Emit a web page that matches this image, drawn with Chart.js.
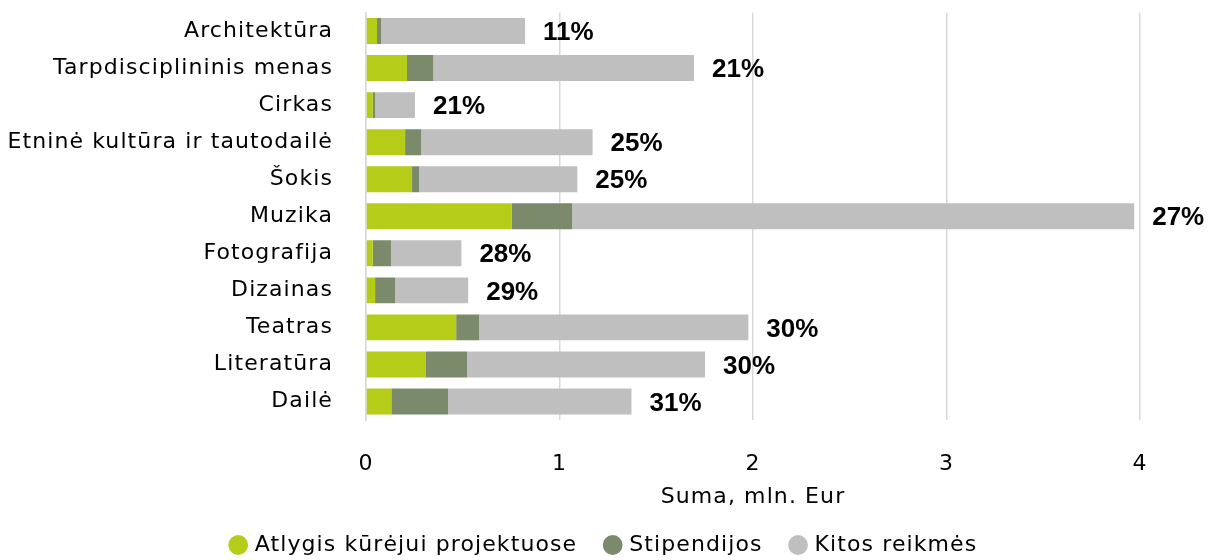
<!DOCTYPE html>
<html>
<head>
<meta charset="utf-8">
<script src="https://cdn.jsdelivr.net/npm/chart.js@4.4.1/dist/chart.umd.min.js"></script>
<style>
html,body{margin:0;padding:0;background:#fff;}
#wrap{width:1210px;height:560px;position:relative;}
</style>
</head>
<body>
<div id="wrap"><canvas id="c" width="1210" height="560"></canvas></div>
<script>
const categories = ["Architektūra","Tarpdisciplininis menas","Cirkas","Etninė kultūra ir tautodailė","Šokis","Muzika","Fotografija","Dizainas","Teatras","Literatūra","Dailė"];
const atlygis = [0.057,0.212,0.035,0.202,0.238,0.754,0.035,0.047,0.466,0.310,0.131];
const stipendijos = [0.021,0.136,0.012,0.083,0.036,0.312,0.094,0.103,0.119,0.212,0.293];
const kitos = [0.744,1.347,0.206,0.886,0.818,2.904,0.364,0.378,1.391,1.230,0.948];
const shareLabels = ["11%","21%","21%","25%","25%","27%","28%","29%","30%","30%","31%"];
const xTicks = [0,1,2,3,4];
const seriesNames = ["Atlygis kūrėjui projektuose","Stipendijos","Kitos reikmės"];
const colors = ["#b5cc18","#7a8a6a","#bfbfbf"];

const FONT = "'DejaVu Sans', sans-serif";
const SPACING = '1.1px';

const spacingPlugin = {
  id: 'spacing',
  beforeLayout(chart) { chart.ctx.letterSpacing = SPACING; },
  beforeDraw(chart) { chart.ctx.letterSpacing = SPACING; }
};

const labelPlugin = {
  id: 'endLabels',
  afterDatasetsDraw(chart) {
    const ctx = chart.ctx;
    const meta = chart.getDatasetMeta(2);
    ctx.save();
    ctx.letterSpacing = '0px';
    ctx.font = "bold 26px 'Liberation Sans', Arial, sans-serif";
    ctx.fillStyle = "#000";
    ctx.textBaseline = "middle";
    ctx.textAlign = "left";
    meta.data.forEach((bar, i) => {
      ctx.fillText(shareLabels[i], bar.x + 18, bar.y + 2);
    });
    ctx.restore();
  }
};

new Chart(document.getElementById('c'), {
  type: 'bar',
  data: {
    labels: categories,
    datasets: [
      {label: seriesNames[0], data: atlygis, backgroundColor: colors[0]},
      {label: seriesNames[1], data: stipendijos, backgroundColor: colors[1]},
      {label: seriesNames[2], data: kitos, backgroundColor: colors[2]}
    ]
  },
  options: {
    indexAxis: 'y',
    responsive: false,
    animation: false,
    devicePixelRatio: 1,
    layout: {padding: {top: 12.5, right: 0, left: 0, bottom: -6}},
    datasets: {bar: {categoryPercentage: 1, barPercentage: 0.7, borderWidth: 0}},
    plugins: {
      legend: {
        position: 'bottom',
        labels: {
          usePointStyle: true, pointStyle: 'circle', boxWidth: 11, boxHeight: 14,
          color: '#000', font: {family: FONT, size: 22}, padding: 30
        }
      },
      tooltip: {enabled: false}
    },
    scales: {
      x: {
        stacked: true, min: 0, max: 4,
        afterBuildTicks: s => { s.ticks = xTicks.map(v => ({value: v})); },
        afterFit: s => { s.height = 84; },
        grid: {color: '#d9d9d9', lineWidth: 1.5, drawTicks: false},
        border: {display: false},
        ticks: {color: '#000', font: {family: FONT, size: 22}, padding: 31, maxRotation: 0},
        title: {display: true, text: 'Suma, mln. Eur', color: '#000', font: {family: FONT, size: 22}, padding: {top: 0, bottom: -6}}
      },
      y: {
        stacked: true,
        afterFit: s => { s.width = 366; s.paddingTop = 0; s.paddingBottom = 0; },
        grid: {display: false, drawTicks: false},
        border: {display: true, color: '#d9d9d9', width: 1.5},
        ticks: {color: '#000', font: {family: FONT, size: 22}, padding: 33, autoSkip: false}
      },
      yr: {
        position: 'right',
        afterFit: s => { s.width = 70; },
        grid: {display: false, drawTicks: false},
        border: {display: false},
        ticks: {display: false}
      }
    }
  },
  plugins: [spacingPlugin, labelPlugin]
});
</script>
</body>
</html>
